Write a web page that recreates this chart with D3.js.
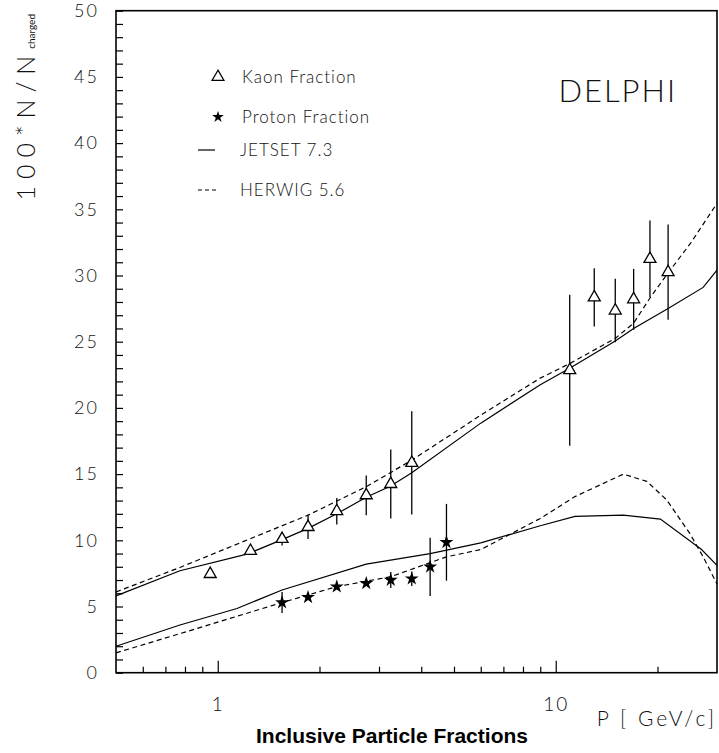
<!DOCTYPE html>
<html lang="en"><head><meta charset="UTF-8">
<title>Inclusive Particle Fractions</title>
<script src="https://cdn.jsdelivr.net/npm/d3@7"></script>
<style>
  body { margin:0; background:#fff; }
  text { font-family:Lato, "DejaVu Sans", sans-serif; font-weight:300; fill:#111; }
  text.title { font-family:"Liberation Sans", Arial, sans-serif; font-weight:bold; fill:#000; }
</style>
</head>
<body>
<div id="chart"></div>
<script>

// measured points (momentum P in GeV/c, fraction in %)
const kaonP   = [0.95, 1.25, 1.55, 1.85, 2.25, 2.75, 3.25, 3.75, 11, 13, 15, 17, 19, 21.5];
const kaonF   = [7.45, 9.2, 10.1, 11.0, 12.2, 13.4, 14.25, 15.85, 22.85, 28.35, 27.35, 28.2, 31.25, 30.25];
const kaonErr = [0.3, 0.3, 0.5, 0.9, 1.0, 1.5, 2.6, 3.9, 5.7, 2.2, 2.4, 2.3, 2.9, 3.6];

const protonP   = [1.55, 1.85, 2.25, 2.75, 3.25, 3.75, 4.25, 4.75];
const protonF   = [5.3, 5.7, 6.5, 6.75, 7.0, 7.1, 8.0, 9.85];
const protonErr = [0.8, 0.2, 0.2, 0.2, 0.6, 0.55, 2.2, 2.9];

// model curves
const jetsetKaonP = [0.5, 0.773, 1.22, 1.55, 1.85, 2.25, 2.75, 3.25, 3.75, 6.0, 9.0, 11.0, 15.0, 17.0, 21.5, 27.3, 30];
const jetsetKaon  = [5.8, 7.7, 8.95, 10.05, 10.9, 12.0, 13.25, 14.1, 15.1, 18.85, 21.75, 23.0, 25.05, 26.0, 27.5, 29.1, 30.4];
const herwigKaonP = [0.5, 0.773, 1.85, 2.75, 3.75, 6.0, 9.0, 11.0, 15.0, 17.0, 19.0, 21.5, 25.0, 30];
const herwigKaon  = [6.1, 7.95, 11.9, 14.05, 16.05, 19.45, 22.25, 23.35, 25.25, 26.4, 28.3, 30.2, 32.4, 35.45];

const jetsetProtonP = [0.5, 0.773, 1.14, 1.55, 2.75, 4.25, 6.0, 9.0, 11.4, 15.85, 20.4, 27.0, 30];
const jetsetProton  = [2.0, 3.6, 4.85, 6.25, 8.2, 9.0, 9.8, 11.1, 11.8, 11.9, 11.6, 9.3, 8.1];
const herwigProtonP = [0.5, 0.773, 1.55, 2.25, 3.25, 4.75, 6.0, 9.0, 11.4, 15.85, 18.6, 21.3, 24.95, 27.3, 30];
const herwigProton  = [1.5, 2.95, 5.3, 6.5, 7.25, 8.75, 9.3, 11.65, 13.3, 15.0, 14.45, 13.05, 10.5, 8.75, 6.7];

// axis ticks
const yTicks = d3.range(0, 51, 1);
const xMajor = [1, 10];
const xMinor = [0.6, 0.7, 0.8, 0.9, 2, 3, 4, 5, 6, 7, 8, 9, 20];

const legendItems = ["Kaon Fraction", "Proton Fraction", "JETSET 7.3", "HERWIG 5.6"];

var W = 719, H = 753;
var L = 116, R = 717, T = 10.7, B = 672.7;

var x = d3.scaleLog().domain([0.5, 30]).range([L, R]);
var y = d3.scaleLinear().domain([0, 50]).range([B, T]);

var svg = d3.select("#chart").append("svg")
    .attr("width", W).attr("height", H);
svg.append("rect").attr("width", W).attr("height", H).attr("fill", "#fff");

// y axis, ticks inside the frame, labels every 5
var yAxis = svg.append("g")
    .attr("transform", "translate(" + L + ",0)")
    .call(d3.axisLeft(y).tickValues(yTicks).tickSize(-7).tickPadding(17)
          .tickFormat(function(d){ return d % 5 === 0 ? d : ""; }));
yAxis.select(".domain").remove();
yAxis.selectAll("text").attr("font-size", 18).attr("letter-spacing", 2)
    .attr("font-family", null).attr("fill", null);

// x axis, minor ticks then decades with labels
var xMinorAxis = svg.append("g")
    .attr("transform", "translate(0," + B + ")")
    .call(d3.axisBottom(x).tickValues(xMinor).tickSize(-6).tickFormat(""));
xMinorAxis.select(".domain").remove();

var xMajorAxis = svg.append("g")
    .attr("transform", "translate(0," + B + ")")
    .call(d3.axisBottom(x).tickValues(xMajor).tickSize(-12).tickPadding(25)
          .tickFormat(d3.format("d")));
xMajorAxis.select(".domain").remove();
svg.selectAll("g line").attr("stroke", "#000").attr("stroke-width", 1.2);
xMajorAxis.selectAll("text").attr("font-size", 19).attr("letter-spacing", 2)
    .attr("font-family", null).attr("fill", null);

// frame
svg.append("rect")
    .attr("x", L).attr("y", T).attr("width", R - L).attr("height", B - T)
    .attr("fill", "none").attr("stroke", "#000").attr("stroke-width", 1.6);

// curves
var line = d3.line().x(function(d){ return x(d[0]); }).y(function(d){ return y(d[1]); });
function curve(px, py, dashed){
    svg.append("path")
        .datum(d3.zip(px, py))
        .attr("d", line)
        .attr("fill", "none")
        .attr("stroke", "#000")
        .attr("stroke-width", 1.2)
        .attr("stroke-dasharray", dashed ? "5,3.5" : null);
}
curve(jetsetKaonP, jetsetKaon, false);
curve(herwigKaonP, herwigKaon, true);
curve(jetsetProtonP, jetsetProton, false);
curve(herwigProtonP, herwigProton, true);

// error bars
function errBars(px, py, pe){
    svg.append("g").selectAll("line")
        .data(d3.zip(px, py, pe)).enter()
        .append("line")
        .attr("x1", function(d){ return x(d[0]); })
        .attr("x2", function(d){ return x(d[0]); })
        .attr("y1", function(d){ return y(d[1] - d[2]); })
        .attr("y2", function(d){ return y(d[1] + d[2]); })
        .attr("stroke", "#000").attr("stroke-width", 1.3);
}
errBars(kaonP, kaonF, kaonErr);
errBars(protonP, protonF, protonErr);

var tri = d3.symbol(d3.symbolTriangle).size(62);
var star = d3.symbol(d3.symbolStar).size(60);

svg.append("g").selectAll("path")
    .data(d3.zip(kaonP, kaonF)).enter()
    .append("path")
    .attr("d", tri)
    .attr("transform", function(d){ return "translate(" + x(d[0]) + "," + y(d[1]) + ")"; })
    .attr("fill", "#fff").attr("stroke", "#000").attr("stroke-width", 1.3);

svg.append("g").selectAll("path")
    .data(d3.zip(protonP, protonF)).enter()
    .append("path")
    .attr("d", star)
    .attr("transform", function(d){ return "translate(" + x(d[0]) + "," + y(d[1]) + ")"; })
    .attr("fill", "#000");

// legend
var leg = svg.append("g");
leg.append("path").attr("d", tri).attr("transform", "translate(218,77)")
    .attr("fill", "#fff").attr("stroke", "#000").attr("stroke-width", 1.2);
leg.append("path").attr("d", d3.symbol(d3.symbolStar).size(42)).attr("transform", "translate(218,117)")
    .attr("fill", "#000");
leg.append("line").attr("x1", 198).attr("x2", 215).attr("y1", 150).attr("y2", 150)
    .attr("stroke", "#000").attr("stroke-width", 1.2);
leg.append("line").attr("x1", 198).attr("x2", 216).attr("y1", 190).attr("y2", 190)
    .attr("stroke", "#000").attr("stroke-width", 1.2).attr("stroke-dasharray", "4,3");
var legY = [77, 117, 150, 190], legX = [242, 242, 240, 240];
leg.selectAll("text").data(legendItems).enter()
    .append("text")
    .attr("x", function(d, i){ return legX[i]; })
    .attr("y", function(d, i){ return legY[i] + 6; })
    .attr("font-size", 17).attr("letter-spacing", 1)
    .text(function(d){ return d; });

// DELPHI tag, thin lettering
svg.append("text").attr("x", 677).attr("y", 102).attr("text-anchor", "end")
    .attr("font-size", 31).attr("letter-spacing", 2).text("DELPHI");

// y title, rotated
var yt = svg.append("text")
    .attr("transform", "translate(35,14) rotate(-90)")
    .attr("text-anchor", "end");
yt.append("tspan").attr("font-size", 25).attr("letter-spacing", 7).text("100*N/N");
yt.append("tspan").attr("font-size", 10).style("font-weight", 400).text("charged");

// x title
svg.append("text").attr("x", 717).attr("y", 726).attr("text-anchor", "end")
    .attr("font-size", 21).attr("letter-spacing", 3).text("P [ GeV/c]");

svg.append("text").attr("class", "title")
    .attr("x", 392).attr("y", 743).attr("text-anchor", "middle")
    .attr("font-size", 21)
    .text("Inclusive Particle Fractions");

</script>
</body></html>
